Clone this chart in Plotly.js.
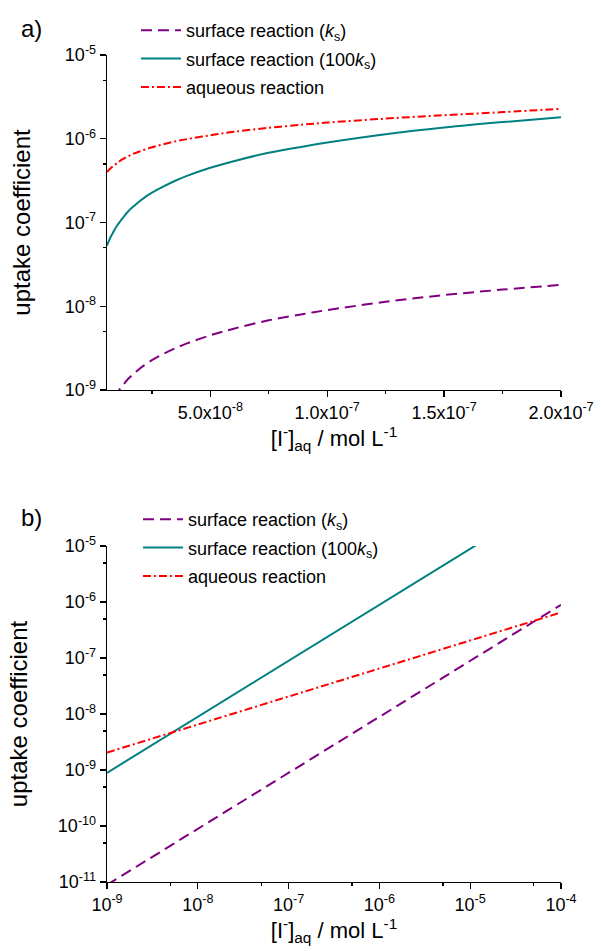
<!DOCTYPE html>
<html>
<head>
<meta charset="utf-8">
<script src="https://cdn.plot.ly/plotly-3.0.1.min.js"></script>
<style>html,body{margin:0;padding:0;background:#fff;}#chart{width:601px;height:951px;}</style>
</head>
<body>
<div id="chart"></div>
<script>
// ---- Panel a) : linear concentration axis ----
const concA = [5.8e-9, 7e-9, 8.5e-9, 1e-8, 1.25e-8, 1.5e-8, 1.75e-8, 2e-8, 2.5e-8, 3e-8, 3.5e-8, 4e-8, 5e-8, 6e-8, 7.5e-8, 9e-8, 1e-7, 1.25e-7, 1.5e-7, 1.75e-7, 2e-7];
const surfKsA = [5.3e-10, 6.4e-10, 7.7e-10, 9.1e-10, 1.13e-9, 1.37e-9, 1.59e-9, 1.82e-9, 2.27e-9, 2.7e-9, 3.15e-9, 3.6e-9, 4.5e-9, 5.4e-9, 6.8e-9, 8.1e-9, 9.0e-9, 1.13e-8, 1.36e-8, 1.58e-8, 1.8e-8];
const surf100KsA = [5.3e-8, 6.4e-8, 7.7e-8, 9.1e-8, 1.13e-7, 1.37e-7, 1.59e-7, 1.82e-7, 2.27e-7, 2.7e-7, 3.15e-7, 3.6e-7, 4.5e-7, 5.4e-7, 6.8e-7, 8.1e-7, 9.0e-7, 1.13e-6, 1.36e-6, 1.58e-6, 1.8e-6];
const aqueousA = [4.0e-7, 4.35e-7, 4.75e-7, 5.1e-7, 5.7e-7, 6.2e-7, 6.7e-7, 7.1e-7, 7.9e-7, 8.6e-7, 9.3e-7, 9.9e-7, 1.10e-6, 1.21e-6, 1.35e-6, 1.48e-6, 1.56e-6, 1.74e-6, 1.91e-6, 2.08e-6, 2.28e-6];
const xTickValsA = [5e-8, 1e-7, 1.5e-7, 2e-7];
const xTickTextA = ["5.0x10<sup>-8</sup>", "1.0x10<sup>-7</sup>", "1.5x10<sup>-7</sup>", "2.0x10<sup>-7</sup>"];
const xMinorA = [2.5e-8, 7.5e-8, 1.25e-7, 1.75e-7];
const yTickValsA = [1e-9, 1e-8, 1e-7, 1e-6, 1e-5];
const yTickTextA = ["10<sup>-9</sup>", "10<sup>-8</sup>", "10<sup>-7</sup>", "10<sup>-6</sup>", "10<sup>-5</sup>"];
const yMinorA = [5e-9, 5e-8, 5e-7, 5e-6];

// ---- Panel b) : log concentration axis ----
const concB = [1e-9, 1e-8, 1e-7, 1e-6, 1e-5, 1e-4];
const surfKsB = [8.9e-12, 8.9e-11, 8.9e-10, 8.9e-9, 8.9e-8, 8.9e-7];
const surf100KsB = [8.9e-10, 8.9e-9, 8.9e-8, 8.9e-7, 8.9e-6, 8.9e-5];
const aqueousB = [2.05e-9, 6.5e-9, 2.05e-8, 6.5e-8, 2.05e-7, 6.5e-7];
const xTickValsB = [1e-9, 1e-8, 1e-7, 1e-6, 1e-5, 1e-4];
const xTickTextB = ["10<sup>-9</sup>", "10<sup>-8</sup>", "10<sup>-7</sup>", "10<sup>-6</sup>", "10<sup>-5</sup>", "10<sup>-4</sup>"];
const xMinorB = [5e-9, 5e-8, 5e-7, 5e-6, 5e-5];
const yTickValsB = [1e-11, 1e-10, 1e-9, 1e-8, 1e-7, 1e-6, 1e-5];
const yTickTextB = ["10<sup>-11</sup>", "10<sup>-10</sup>", "10<sup>-9</sup>", "10<sup>-8</sup>", "10<sup>-7</sup>", "10<sup>-6</sup>", "10<sup>-5</sup>"];
const yMinorB = [5e-11, 5e-10, 5e-9, 5e-8, 5e-7, 5e-6];

const names = ["surface reaction (<i>k</i><sub>s</sub>)", "surface reaction (100<i>k</i><sub>s</sub>)", "aqueous reaction"];
const panelLabels = ["a)", "b)"];

const FONT = "Liberation Sans, Arial, sans-serif";
const purple = "#800080", teal = "#008080", red = "#ff0000";
const purpleDash = "11px,6px", redDash = "8px,3px,2px,3px";

function mk(x, y, i, xa, ya, leg, shape) {
  const styles = [
    {color: purple, width: 2, dash: purpleDash},
    {color: teal, width: 2, dash: "solid"},
    {color: red, width: 2, dash: redDash}
  ];
  const line = Object.assign({shape: shape, smoothing: 1}, styles[i]);
  return {x: x, y: y, type: "scatter", mode: "lines", name: names[i], line: line,
          xaxis: xa, yaxis: ya, legend: leg, legendgroup: leg + i};
}

const data = [
  mk(concA, surfKsA, 0, "x", "y", "legend", "spline"),
  mk(concA, surf100KsA, 1, "x", "y", "legend", "spline"),
  mk(concA, aqueousA, 2, "x", "y", "legend", "spline"),
  mk(concB, surfKsB, 0, "x2", "y2", "legend2", "linear"),
  mk(concB, surf100KsB, 1, "x2", "y2", "legend2", "linear"),
  mk(concB, aqueousB, 2, "x2", "y2", "legend2", "linear")
];

const L = 107, R = 39.5, T = 55, B = 69, H = 951 - T - B;
const yA = [(882 - 390) / H, 1];
const yB = [0, (882 - 546) / H];

const axCommon = {
  showline: true, linecolor: "#000", linewidth: 1.3, showgrid: false, zeroline: false,
  ticks: "outside", ticklen: 6, tickwidth: 1.3, tickcolor: "#000",
  tickfont: {family: FONT, size: 18, color: "#000"}, tickmode: "array"
};
const minorCommon = {tickmode: "array", ticklen: 3, tickwidth: 1.3, tickcolor: "#000", ticks: "outside", showgrid: false};
const titleFontX = {family: FONT, size: 22, color: "#000"};
const titleFontY = {family: FONT, size: 24, color: "#000"};
const xTitle = "[I<sup>-</sup>]<sub>aq</sub> / mol L<sup>-1</sup>";

const layout = {
  width: 601, height: 951,
  margin: {l: L, r: R, t: T, b: B},
  paper_bgcolor: "#fff", plot_bgcolor: "rgba(0,0,0,0)",
  font: {family: FONT, size: 18, color: "#000"},
  xaxis: Object.assign({}, axCommon, {
    domain: [0, 1], anchor: "y", type: "linear", range: [5.8e-9, 2e-7],
    tickvals: xTickValsA, ticktext: xTickTextA,
    minor: Object.assign({tickvals: xMinorA}, minorCommon),
    title: {text: xTitle, font: titleFontX, standoff: 3}
  }),
  yaxis: Object.assign({}, axCommon, {
    domain: yA, anchor: "x", type: "log", range: [-9, -5],
    tickvals: yTickValsA, ticktext: yTickTextA,
    minor: Object.assign({tickvals: yMinorA}, minorCommon),
    title: {text: "uptake coefficient", font: titleFontY, standoff: 27}
  }),
  xaxis2: Object.assign({}, axCommon, {
    domain: [0, 1], anchor: "y2", type: "log", range: [-9, -4],
    tickvals: xTickValsB, ticktext: xTickTextB,
    minor: Object.assign({tickvals: xMinorB}, minorCommon),
    title: {text: xTitle, font: titleFontX, standoff: 8}
  }),
  yaxis2: Object.assign({}, axCommon, {
    domain: yB, anchor: "x2", type: "log", range: [-11, -5],
    tickvals: yTickValsB, ticktext: yTickTextB,
    minor: Object.assign({tickvals: yMinorB}, minorCommon),
    title: {text: "uptake coefficient", font: titleFontY, standoff: 23}
  }),
  legend: {
    x: (136 - L) / 454.5, xanchor: "left", y: (882 - 12) / H, yanchor: "top",
    bgcolor: "rgba(0,0,0,0)", borderwidth: 0, tracegroupgap: 2,
    font: {family: FONT, size: 18, color: "#000"}, itemwidth: 40
  },
  legend2: {
    x: (138 - L) / 454.5, xanchor: "left", y: (882 - 501) / H, yanchor: "top",
    bgcolor: "rgba(0,0,0,0)", borderwidth: 0, tracegroupgap: 2,
    font: {family: FONT, size: 18, color: "#000"}, itemwidth: 40
  },
  showlegend: true,
  annotations: [
    {text: panelLabels[0], xref: "paper", yref: "paper", x: (31 - L) / 454.5, y: (882 - 29) / H,
     xanchor: "center", yanchor: "middle", showarrow: false, font: {family: FONT, size: 24, color: "#000"}},
    {text: panelLabels[1], xref: "paper", yref: "paper", x: (31 - L) / 454.5, y: (882 - 517) / H,
     xanchor: "center", yanchor: "middle", showarrow: false, font: {family: FONT, size: 24, color: "#000"}}
  ]
};

Plotly.newPlot("chart", data, layout, {displayModeBar: false, staticPlot: true});
</script>
</body>
</html>
